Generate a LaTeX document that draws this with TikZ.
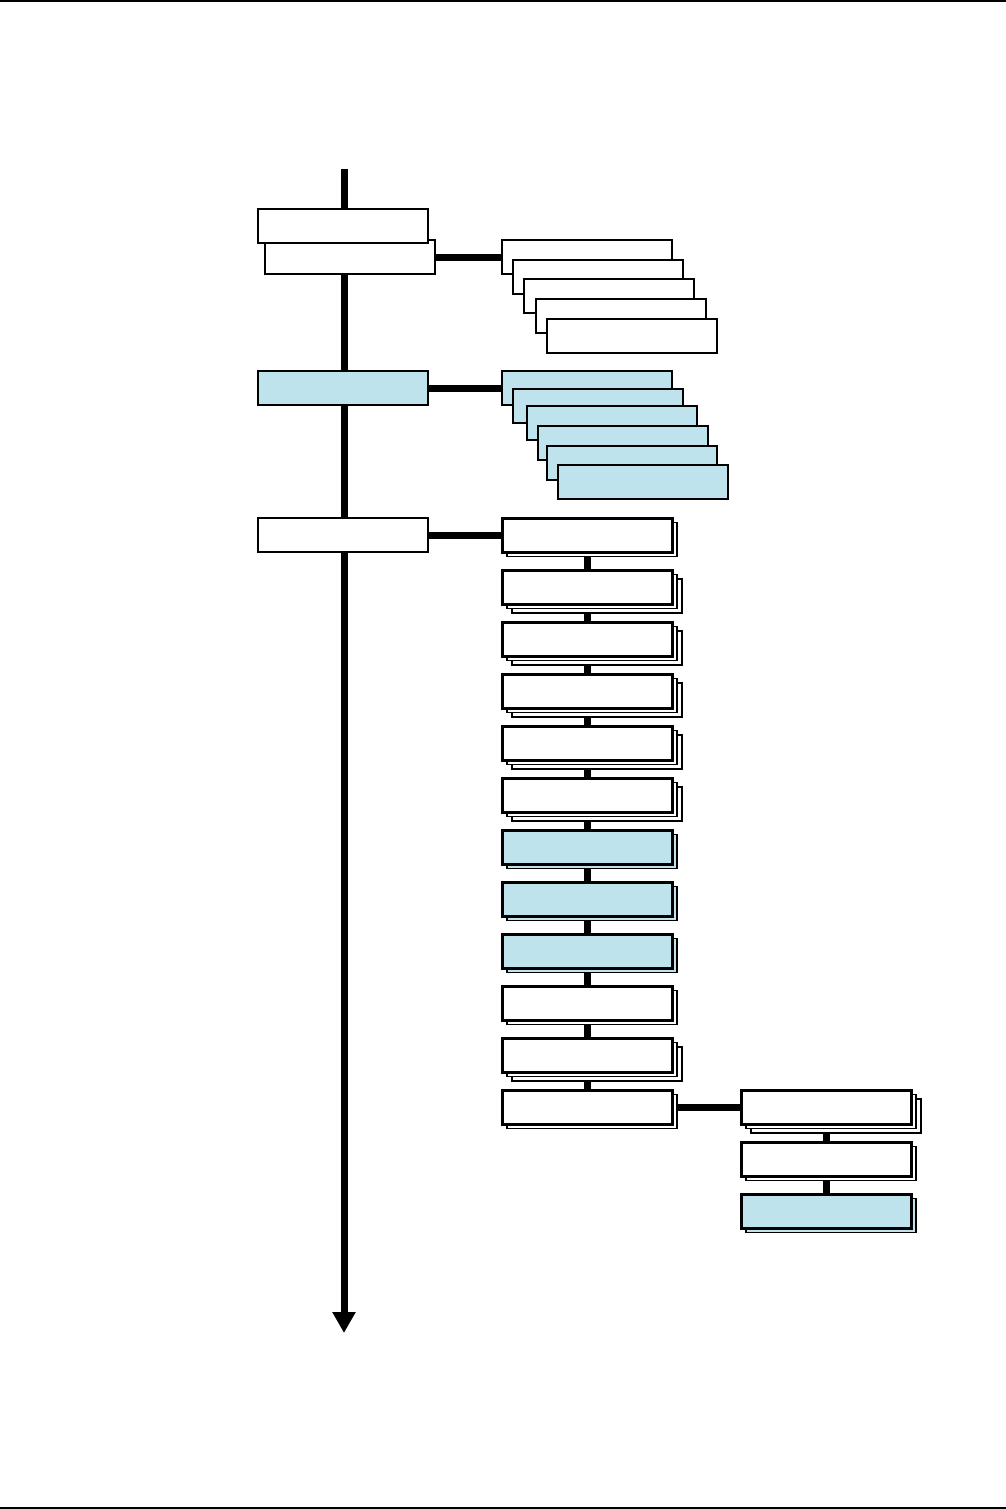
\documentclass[tikz,border=0pt]{standalone}
\usepackage{xcolor}
\usepackage{tikz}
\usetikzlibrary{arrows.meta,calc,positioning,backgrounds,shadows}
\definecolor{paleblue}{RGB}{191,227,237}

\begin{document}
\begin{tikzpicture}[x=1pt,y=-1pt,
  framebox/.style={draw,fill=white,line width=2pt,minimum width=170pt,minimum height=34pt,inner sep=0pt,outer sep=0pt,anchor=north west},
  listbox/.style={framebox,line width=3pt},
  bluebox/.style={fill=paleblue},
  onecopy/.style={copy shadow={shadow xshift=5pt,shadow yshift=-4.5pt,line width=1.6pt}},
  twocopy/.style={copy shadow={shadow xshift=10pt,shadow yshift=-9pt,line width=1.6pt},
                  copy shadow={shadow xshift=5pt,shadow yshift=-4.5pt,line width=1.6pt}},
  link/.style={line width=7pt},
  node distance=18pt and 69pt
]
\useasboundingbox (0,0) rectangle (1006,1509);
\draw[line width=1.5pt] (0,1) -- (1006,1);
\draw[line width=2pt] (0,1507.5) -- (1006,1507.5);

% spine
\coordinate (spinetop) at (344,169);
\coordinate (spineend) at (344,1333);
\draw[link,-{Triangle[length=21pt,width=22pt]}] (spinetop) -- (spineend);

% left column
\node[framebox] (head2) at (265,240) {};
\node[framebox] (head1) at (258,209) {};
\node[framebox,bluebox] (head3) at (258,371) {};
\node[framebox] (head4) at (258,518) {};

% first fan
\foreach \x/\y [count=\n] in {502/240,513/260,524/279,536/299,547/319}
  \node[framebox] (fana\n) at (\x,\y) {};
% second fan
\foreach \x/\y [count=\n] in {502/371,513/389,527/406,538/426,547/446,558/465}
  \node[framebox,bluebox] (fanb\n) at (\x,\y) {};

% list
\node[listbox,onecopy] (l1) at (502,518) {};
\node[listbox,twocopy,below=of l1] (l2) {};
\node[listbox,twocopy,below=of l2] (l3) {};
\node[listbox,twocopy,below=of l3] (l4) {};
\node[listbox,twocopy,below=of l4] (l5) {};
\node[listbox,twocopy,below=of l5] (l6) {};
\node[listbox,bluebox,onecopy,below=of l6] (l7) {};
\node[listbox,bluebox,onecopy,below=of l7] (l8) {};
\node[listbox,bluebox,onecopy,below=of l8] (l9) {};
\node[listbox,onecopy,below=of l9] (l10) {};
\node[listbox,twocopy,below=of l10] (l11) {};
\node[listbox,onecopy,below=of l11] (l12) {};

% side column
\node[listbox,twocopy,right=of l12,anchor=west] (r1) {};
\node[listbox,onecopy,below=of r1] (r2) {};
\node[listbox,bluebox,onecopy,below=of r2] (r3) {};

\begin{scope}[on background layer]
\draw[link] (head2.east) -- (head2.east -| fana1.west);
\draw[link] (head3.east) -- (fanb1.west);
\draw[link] (head4.east) -- (l1.west);
\foreach \i [evaluate=\i as \j using int(\i+1)] in {1,...,11}
  \draw[link] (l\i.south) -- (l\j.north);
\draw[link] (l12.east) -- (r1.west);
\draw[link] (r1.south) -- (r2.north);
\draw[link] (r2.south) -- (r3.north);
\end{scope}
\end{tikzpicture}
\end{document}
